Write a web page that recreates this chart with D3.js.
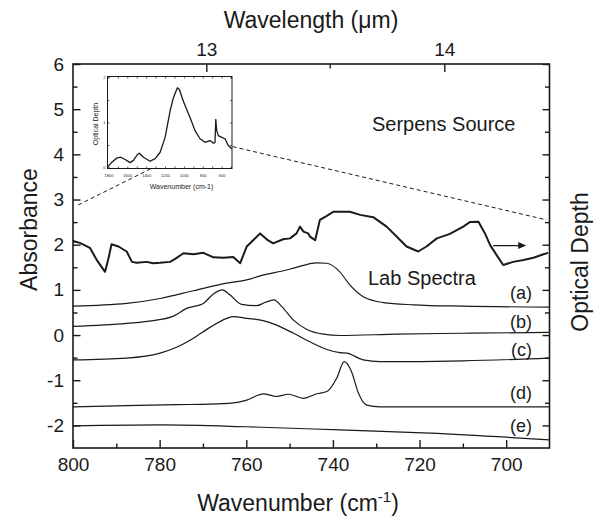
<!DOCTYPE html>
<html>
<head>
<meta charset="utf-8">
<script src="https://cdn.jsdelivr.net/npm/d3@7"></script>
<style>
  html, body { margin: 0; padding: 0; background: #fff; }
  svg { display: block; font-family: "Liberation Sans", Arial, sans-serif; }
</style>
</head>
<body>
<svg id="chart" width="612" height="518"></svg>
<script>
// ---------------- DATA ----------------
// Serpens source spectrum: [wavenumber cm-1, absorbance]
const serpensWn = [800,798.4,796.1,794.5,792.6,791.9,791.1,789.5,787.6,786.4,785.3,783.0,781.5,779.9,777.6,776.5,774.5,772.2,769.9,767.6,765.3,763.0,761.4,759.9,758.4,756.8,755.3,753.8,751.5,749.9,748.4,747.6,746.8,745.7,745.3,744.1,743.0,741.4,739.9,738.4,736.1,733.7,730.7,727.6,725.3,723.0,720.3,718.4,716.0,713.0,709.9,708.4,706.4,704.9,703.7,702.2,700.7,698.4,696.0,693.7,691.4,690.3];
const serpensAbs = [2.08,2.04,1.93,1.66,1.40,1.66,2.01,1.96,1.85,1.62,1.60,1.62,1.59,1.60,1.62,1.68,1.81,1.79,1.82,1.72,1.71,1.73,1.59,1.96,2.10,2.25,2.12,2.03,2.12,2.14,2.25,2.40,2.29,2.25,2.18,2.10,2.55,2.64,2.73,2.73,2.73,2.66,2.61,2.40,2.18,1.96,1.85,1.96,2.14,2.24,2.40,2.50,2.51,2.25,1.99,1.77,1.55,1.62,1.66,1.71,1.79,1.82];

// Lab spectra (offset absorbance)
const labAWn  = [800,787.6,779.9,772.2,764.5,759.9,756.8,750.7,749.1,743.7,741.4,738.4,736.1,733.0,728.4,721.4,709.9,690];
const labAAbs = [0.64,0.70,0.81,0.98,1.15,1.22,1.31,1.44,1.48,1.60,1.59,1.40,1.11,0.85,0.72,0.67,0.64,0.62];

const labBWn  = [800,787.6,781.5,776.8,773.8,769.9,767.6,765.5,763.8,761.1,757.6,755.7,753.6,751.8,749.1,746.1,742.2,738.4,725.3,709.9,690];
const labBAbs = [0.19,0.26,0.32,0.42,0.59,0.70,0.91,1.00,0.89,0.68,0.65,0.72,0.78,0.63,0.33,0.13,0.02,-0.01,0.02,0.04,0.06];

const labCWn  = [800,787.6,779.9,776.1,772.2,768.4,764.5,763.0,759.9,756.1,753.0,749.1,745.3,741.4,738.4,736.8,733.0,729.1,709.9,690];
const labCAbs = [-0.55,-0.51,-0.40,-0.27,-0.07,0.17,0.37,0.41,0.37,0.32,0.22,0.04,-0.15,-0.32,-0.39,-0.40,-0.55,-0.59,-0.57,-0.51];

const labDWn  = [800,787.6,776.1,768.4,763.0,759.9,758.0,756.1,753.0,750.3,746.8,743.7,741.4,739.1,737.4,735.7,734.1,732.2,729.1,709.9,690];
const labDAbs = [-1.59,-1.56,-1.54,-1.53,-1.50,-1.44,-1.36,-1.30,-1.36,-1.31,-1.40,-1.30,-1.25,-0.95,-0.59,-0.81,-1.29,-1.55,-1.59,-1.59,-1.59];

const labEWn  = [800,779.9,759.9,738.4,717.6,690];
const labEAbs = [-2.01,-1.99,-2.03,-2.10,-2.17,-2.32];

const labNames = ["(a)","(b)","(c)","(d)","(e)"];
const labLabelAbs = [0.95,0.29,-0.31,-1.28,-2.0];

// Inset: wide-range Serpens optical depth spectrum
const insetWn = [1810,1764,1711,1669,1623,1570,1535,1493,1472,1429,1358,1305,1252,1199,1146,1111,1069,1048,1006,935,882,829,776,723,688,670,662,652,635,599,564,546,529,493];
const insetOD = [0.01,0.12,0.21,0.23,0.18,0.11,0.16,0.29,0.32,0.23,0.14,0.20,0.34,0.67,1.26,1.55,1.77,1.73,1.47,1.11,0.82,0.64,0.56,0.60,0.54,0.56,1.07,0.82,0.71,0.67,0.64,0.56,0.49,0.42];
const insetXTicks = [1800,1600,1400,1200,1000,800,600];
const insetYTicks = [0,1,2];

// Axes
const xMajor = [800,780,760,740,720,700];
const xMinor = [790,770,750,730,710];
const yMajor = [-2,-1,0,1,2,3,4,5,6];
const yMinor = [-1.5,-0.5,0.5,1.5,2.5,3.5,4.5,5.5];
const lambdaMajor = [13,14];
const lambdaMinor = [13.5];

// ---------------- DRAW ----------------
const svg = d3.select("#chart");
const L = 73, R = 549.5, T = 64, B = 448;
const x = d3.scaleLinear().domain([800, 690]).range([L, R]);
const y = d3.scaleLinear().domain([-2.5, 6]).range([B, T]);
const ink = "#1a1a1a";
const plain = d => String(d);

// frame
svg.append("rect").attr("x", L).attr("y", T).attr("width", R - L).attr("height", B - T)
  .attr("fill", "none").attr("stroke", ink).attr("stroke-width", 1.6);

function styleAxis(g) {
  g.select(".domain").remove();
  g.selectAll("line").attr("stroke", ink).attr("stroke-width", 1.4);
  g.selectAll("text").attr("fill", ink).style("font-size", "19px")
   .style("font-family", '"Liberation Sans", Arial, sans-serif');
}

// bottom
svg.append("g").attr("transform", `translate(0,${B})`)
  .call(d3.axisBottom(x).tickValues(xMajor).tickFormat(plain).tickSizeInner(-8).tickSizeOuter(0).tickPadding(10))
  .call(styleAxis);
svg.append("g").attr("transform", `translate(0,${B})`)
  .call(d3.axisBottom(x).tickValues(xMinor).tickFormat("").tickSizeInner(-4.5).tickSizeOuter(0))
  .call(styleAxis);
// left
svg.append("g").attr("transform", `translate(${L},0)`)
  .call(d3.axisLeft(y).tickValues(yMajor).tickFormat(plain).tickSizeInner(-7.5).tickSizeOuter(0).tickPadding(9))
  .call(styleAxis);
svg.append("g").attr("transform", `translate(${L},0)`)
  .call(d3.axisLeft(y).tickValues(yMinor).tickFormat("").tickSizeInner(-4.5).tickSizeOuter(0))
  .call(styleAxis);
// right (optical depth, unlabeled)
svg.append("g").attr("transform", `translate(${R},0)`)
  .call(d3.axisRight(y).tickValues(yMajor).tickFormat("").tickSizeInner(-7).tickSizeOuter(0))
  .call(styleAxis);
svg.append("g").attr("transform", `translate(${R},0)`)
  .call(d3.axisRight(y).tickValues(yMinor).tickFormat("").tickSizeInner(-4.5).tickSizeOuter(0))
  .call(styleAxis);
// top (wavelength)
svg.append("g").attr("transform", `translate(0,${T})`)
  .call(d3.axisTop(x).tickValues(lambdaMajor.map(l => 1e4 / l)).tickFormat(d => String(Math.round(1e4 / d))).tickSizeInner(-8).tickSizeOuter(0).tickPadding(8))
  .call(styleAxis);
svg.append("g").attr("transform", `translate(0,${T})`)
  .call(d3.axisTop(x).tickValues(lambdaMinor.map(l => 1e4 / l)).tickFormat("").tickSizeInner(-4.5).tickSizeOuter(0))
  .call(styleAxis);

// axis titles
const titleFont = "23px";
svg.append("text").attr("x", 311).attr("y", 28).attr("text-anchor", "middle")
  .style("font-size", titleFont).attr("fill", ink).text("Wavelength (\u03bcm)");
const bt = svg.append("text").attr("x", 298).attr("y", 511).attr("text-anchor", "middle")
  .style("font-size", titleFont).attr("fill", ink);
bt.append("tspan").text("Wavenumber (cm");
bt.append("tspan").attr("dy", -9).style("font-size", "15px").text("-1");
bt.append("tspan").attr("dy", 9).text(")");
svg.append("text").attr("transform", "translate(36.5,229.5) rotate(-90)").attr("text-anchor", "middle")
  .style("font-size", titleFont).attr("fill", ink).text("Absorbance");
svg.append("text").attr("transform", "translate(588,262) rotate(-90)").attr("text-anchor", "middle")
  .style("font-size", titleFont).attr("fill", ink).text("Optical Depth");

// clip for plot
svg.append("clipPath").attr("id", "plotclip").append("rect")
  .attr("x", L).attr("y", T).attr("width", R - L).attr("height", B - T);
const plot = svg.append("g").attr("clip-path", "url(#plotclip)");

// lab spectra
const labSets = [[labAWn, labAAbs],[labBWn, labBAbs],[labCWn, labCAbs],[labDWn, labDAbs],[labEWn, labEAbs]];
const labLine = d3.line().x(d => x(d[0])).y(d => y(d[1])).curve(d3.curveMonotoneX);
labSets.forEach(([wn, ab]) => {
  plot.append("path").datum(wn.map((w, i) => [w, ab[i]]))
    .attr("d", labLine).attr("fill", "none").attr("stroke", ink).attr("stroke-width", 1.2);
});

// serpens
const sLine = d3.line().x(d => x(d[0])).y(d => y(d[1])).curve(d3.curveLinear);
plot.append("path").datum(serpensWn.map((w, i) => [w, serpensAbs[i]]))
  .attr("d", sLine).attr("fill", "none").attr("stroke", ink).attr("stroke-width", 2)
  .attr("stroke-linejoin", "round");

// arrow
const arrowY = y(1.98);
plot.append("line").attr("x1", x(703)).attr("x2", x(697)).attr("y1", arrowY).attr("y2", arrowY)
  .attr("stroke", ink).attr("stroke-width", 1.3);
plot.append("path").attr("d", `M${x(697)-1},${arrowY-3.5} L${x(697)+7},${arrowY} L${x(697)-1},${arrowY+3.5} Z`).attr("fill", ink);

// text annotations
svg.append("text").attr("x", 372).attr("y", 131).style("font-size", "20px").attr("fill", ink).text("Serpens Source");
svg.append("text").attr("x", 368).attr("y", 285).style("font-size", "20px").attr("fill", ink).text("Lab Spectra");
labNames.forEach((n, i) => {
  svg.append("text").attr("x", 532).attr("y", y(labLabelAbs[i]) + 6.5).attr("text-anchor", "end")
    .style("font-size", "18px").attr("fill", ink).text(n);
});

// ---------------- INSET ----------------
const iL = 107.5, iR = 232, iT = 76.5, iB = 168.5;
const ix = d3.scaleLinear().domain([1810, 490]).range([iL, iR]);
const iy = d3.scaleLinear().domain([-0.02, 2.02]).range([iB, iT]);

// dashed zoom lines
svg.append("line").attr("x1", x(798.8)).attr("y1", y(2.88)).attr("x2", ix(790)).attr("y2", iy(0.56))
  .attr("stroke", ink).attr("stroke-width", 1).attr("stroke-dasharray", "4,3");
svg.append("line").attr("x1", ix(700)).attr("y1", iy(0.57)).attr("x2", x(690.7)).attr("y2", y(2.55))
  .attr("stroke", ink).attr("stroke-width", 1).attr("stroke-dasharray", "4,3");

svg.append("rect").attr("x", iL).attr("y", iT).attr("width", iR - iL).attr("height", iB - iT)
  .attr("fill", "#fff").attr("stroke", ink).attr("stroke-width", 1);

const iTicks = d3.range(1800, 499, -100);
const tinyAxis = g => { g.select(".domain").remove(); g.selectAll("line").attr("stroke", ink).attr("stroke-width", 0.7);
  g.selectAll("text").style("font-size", "4px").attr("fill", ink); };
svg.append("g").attr("transform", `translate(0,${iB})`)
  .call(d3.axisBottom(ix).tickValues(iTicks).tickFormat(d => insetXTicks.includes(d) ? String(d) : "").tickSizeInner(-2).tickSizeOuter(0).tickPadding(6))
  .call(tinyAxis);
svg.append("g").attr("transform", `translate(0,${iT})`)
  .call(d3.axisTop(ix).tickValues(iTicks).tickFormat("").tickSizeInner(-2).tickSizeOuter(0))
  .call(tinyAxis);
svg.append("g").attr("transform", `translate(${iL},0)`)
  .call(d3.axisLeft(iy).tickValues([0,0.5,1,1.5,2]).tickFormat(d => insetYTicks.includes(d) ? String(d) : "").tickSizeInner(-2).tickSizeOuter(0).tickPadding(2))
  .call(tinyAxis);
svg.append("g").attr("transform", `translate(${iR},0)`)
  .call(d3.axisRight(iy).tickValues([0,0.5,1,1.5,2]).tickFormat("").tickSizeInner(-2).tickSizeOuter(0))
  .call(tinyAxis);

const iLine = d3.line().x(d => ix(d[0])).y(d => iy(d[1])).curve(d3.curveLinear);
svg.append("path").datum(insetWn.map((w, i) => [w, insetOD[i]]))
  .attr("d", iLine).attr("fill", "none").attr("stroke", ink).attr("stroke-width", 1.3).attr("stroke-linejoin", "round");

svg.append("text").attr("x", 181.5).attr("y", 188.5).attr("text-anchor", "middle")
  .style("font-size", "7px").attr("fill", ink).text("Wavenumber (cm-1)");
svg.append("text").attr("transform", "translate(97.5,124) rotate(-90)").attr("text-anchor", "middle")
  .style("font-size", "7px").attr("fill", ink).text("Optical Depth");
</script>
</body>
</html>
